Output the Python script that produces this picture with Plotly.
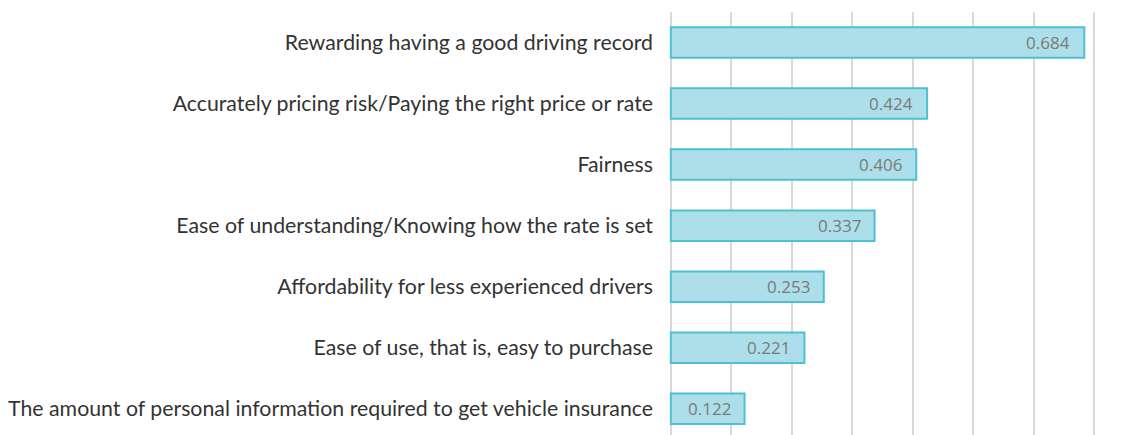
import plotly.graph_objects as go

categories = [
    "Rewarding having a good driving record",
    "Accurately pricing risk/Paying the right price or rate",
    "Fairness",
    "Ease of understanding/Knowing how the rate is set",
    "Affordability for less experienced drivers",
    "Ease of use, that is, easy to purchase",
    "The amount of personal information required to get vehicle insurance",
]
values = [0.684, 0.424, 0.406, 0.337, 0.253, 0.221, 0.122]
value_labels = ["0.684", "0.424", "0.406", "0.337", "0.253", "0.221", "0.122"]

fig = go.Figure()
fig.add_trace(go.Bar(
    x=values, y=categories, orientation="h", width=0.5,
    marker=dict(color="#acdfe9", line=dict(color="#4fbfd3", width=2)),
    hoverinfo="x+y",
))
for c, v, t in zip(categories, values, value_labels):
    fig.add_annotation(x=v, y=c, text=t, showarrow=False, xanchor="right",
                       xshift=-12, font=dict(family="Open Sans", size=17, color="#7a7a7a"))

fig.update_layout(
    width=1140, height=427,
    margin=dict(l=661, r=51, t=4, b=0),
    plot_bgcolor="white", paper_bgcolor="white",
    showlegend=False,
    bargap=0.5,
    xaxis=dict(range=[-0.003, 0.705], dtick=0.1, showticklabels=False, showgrid=True,
               gridcolor="#d9d9d9", gridwidth=2, zeroline=True,
               zerolinecolor="#d9d9d9", zerolinewidth=2, showline=False),
    yaxis=dict(categoryorder="array", categoryarray=categories, range=[6.43, -0.5],
               showgrid=False, zeroline=False, showline=False,
               ticklabelstandoff=15, automargin=False,
               tickfont=dict(family="Lato", size=21.3, color="#333333")),
)
fig.write_html("out.html")
